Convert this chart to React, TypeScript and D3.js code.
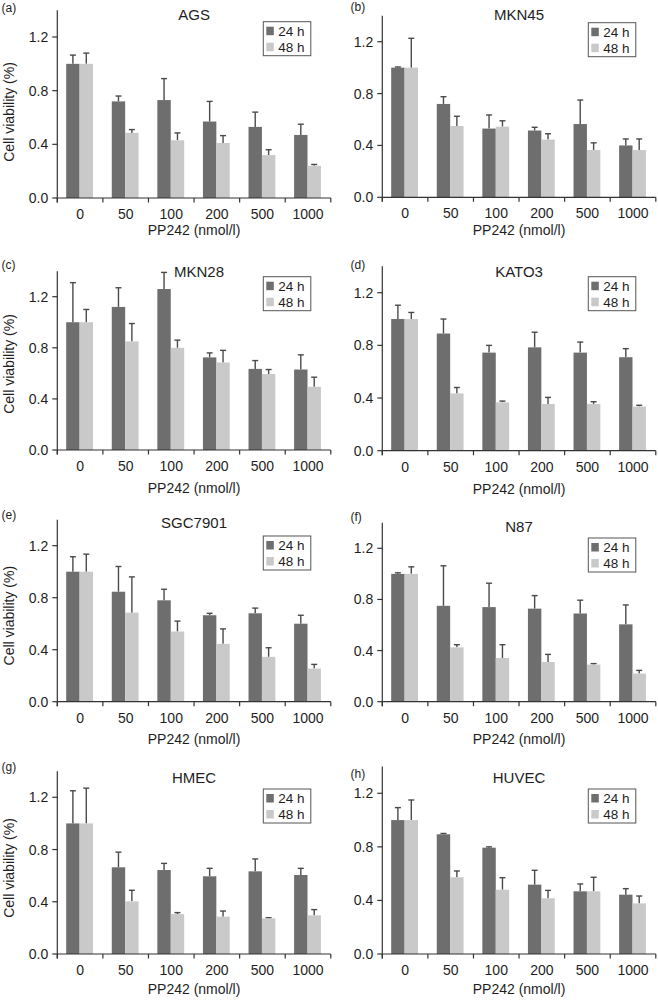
import React from "react";
import * as d3 from "d3";

// ---------- data ----------
const doses = ["0", "50", "100", "200", "500", "1000"];
const seriesNames = ["24 h", "48 h"];
const panelTags = ["(a)", "(b)", "(c)", "(d)", "(e)", "(f)", "(g)", "(h)"];
const cellLines = ["AGS", "MKN45", "MKN28", "KATO3", "SGC7901", "N87", "HMEC", "HUVEC"];
const yTicks = [0, 0.4, 0.8, 1.2];

const mean24 = [
  [1.0, 0.72, 0.73, 0.57, 0.53, 0.47],
  [1.0, 0.72, 0.53, 0.515, 0.565, 0.4],
  [1.0, 1.12, 1.26, 0.725, 0.635, 0.63],
  [1.0, 0.89, 0.745, 0.785, 0.745, 0.71],
  [1.0, 0.846, 0.78, 0.665, 0.68, 0.6],
  [1.0, 0.75, 0.74, 0.728, 0.69, 0.605],
  [1.0, 0.664, 0.643, 0.595, 0.633, 0.605],
  [1.0, 0.894, 0.794, 0.518, 0.468, 0.443],
];
const sd24 = [
  [0.065, 0.04, 0.16, 0.15, 0.11, 0.08],
  [0.005, 0.056, 0.105, 0.025, 0.185, 0.05],
  [0.31, 0.15, 0.13, 0.035, 0.065, 0.115],
  [0.105, 0.11, 0.055, 0.115, 0.08, 0.065],
  [0.115, 0.194, 0.085, 0.015, 0.04, 0.065],
  [0.008, 0.313, 0.187, 0.102, 0.104, 0.152],
  [0.25, 0.116, 0.051, 0.061, 0.095, 0.051],
  [0.093, 0.006, 0.006, 0.107, 0.055, 0.045],
];
const mean48 = [
  [1.0, 0.485, 0.43, 0.41, 0.32, 0.24],
  [1.0, 0.55, 0.545, 0.445, 0.365, 0.365],
  [1.0, 0.85, 0.8, 0.685, 0.595, 0.495],
  [1.0, 0.435, 0.367, 0.355, 0.355, 0.335],
  [1.0, 0.685, 0.54, 0.445, 0.345, 0.255],
  [1.0, 0.425, 0.342, 0.31, 0.29, 0.22],
  [1.0, 0.403, 0.306, 0.286, 0.273, 0.296],
  [1.0, 0.573, 0.48, 0.416, 0.468, 0.378],
];
const sd48 = [
  [0.08, 0.025, 0.055, 0.055, 0.04, 0.01],
  [0.226, 0.075, 0.045, 0.045, 0.055, 0.085],
  [0.1, 0.14, 0.06, 0.095, 0.035, 0.075],
  [0.05, 0.045, 0.01, 0.05, 0.017, 0.01],
  [0.135, 0.275, 0.08, 0.115, 0.07, 0.032],
  [0.055, 0.021, 0.104, 0.06, 0.008, 0.025],
  [0.27, 0.085, 0.011, 0.043, 0.005, 0.044],
  [0.15, 0.047, 0.09, 0.059, 0.105, 0.055],
];

// ---------- layout (pixel frame of each panel) ----------
const panelY0 = [198, 197.3, 450, 450.7, 701.7, 701.7, 954, 954];
const panelY12 = [37, 41.7, 296.7, 292.7, 545.7, 548.3, 797.3, 793.3];
const titleY = [15, 15, 271.7, 271.7, 522.7, 526.7, 778, 778];
const titleDx = [0, 0, 5, 0, 0, 0, 0, 0];
const legendTop = [21.7, 22.7, 276.7, 276.7, 536, 538, 789, 789];
const tagY = [7.3, 6.7, 265, 265, 515, 516.7, 766.7, 773.3];
const xTitleDy = [32, 32.7, 38, 38.6, 37.7, 37.7, 35, 35];

const COL_X0 = [57.3, 382.3];
const PLOT_W = 273.5;
const DARK = "#6e6e6e";
const LIGHT = "#c9c9c9";
const AXIS = "#333";
const ERR = "#4a4a4a";
const TXT = "#1e1e1e";
const FONT = "'Liberation Sans', Arial, Helvetica, sans-serif";

function Panel({ i }: { i: number }) {
  const col = i % 2;
  const x0 = COL_X0[col];
  const x1 = x0 + PLOT_W;
  const y0 = panelY0[i];
  const unit = (y0 - panelY12[i]) / 1.2;
  const y = d3.scaleLinear().domain([0, 1.4]).range([y0, y0 - 1.4 * unit]);
  const x = d3.scaleBand<string>().domain(doses).range([x0, x1]).paddingInner(0).paddingOuter(0);
  const barW = 13.4;
  const inner = d3.scaleBand<string>().domain(seriesNames).range([0, barW * 2]);
  const series = [
    { name: seriesNames[0], mean: mean24[i], sd: sd24[i], color: DARK },
    { name: seriesNames[1], mean: mean48[i], sd: sd48[i], color: LIGHT },
  ];
  const bw = x.bandwidth();
  const boundaries = d3.range(doses.length + 1).map((k) => x0 + k * bw);
  const midX = (x0 + x1) / 2;
  const lx = x1 - 20 - 47.5;
  const ly = legendTop[i];

  return (
    <g>
      {/* bars */}
      {series.map((s) =>
        doses.map((d, k) => {
          const bx = (x(d) as number) + bw / 2 - barW + (inner(s.name) as number) - 0.5;
          const top = y(s.mean[k]);
          const et = y(s.mean[k] + s.sd[k]);
          const cx = bx + barW / 2;
          return (
            <g key={s.name + d}>
              <line x1={cx} x2={cx} y1={top} y2={et} stroke={ERR} strokeWidth={1.4} />
              <line x1={cx - 3} x2={cx + 3} y1={et} y2={et} stroke={ERR} strokeWidth={1.4} />
              <rect x={bx} y={top} width={barW} height={y0 - top} fill={s.color} />
            </g>
          );
        })
      )}
      {/* y axis */}
      <line x1={x0} x2={x0} y1={y(1.4)} y2={y0 + 4.5} stroke={AXIS} strokeWidth={1.2} />
      {yTicks.map((t) => (
        <g key={t}>
          <line x1={x0 - 5} x2={x0} y1={y(t)} y2={y(t)} stroke={AXIS} strokeWidth={1.2} />
          <text x={x0 - 9} y={y(t)} dy="0.36em" textAnchor="end" fontSize={14} fill={TXT} fontFamily={FONT}>
            {t.toFixed(1)}
          </text>
        </g>
      ))}
      {/* x axis */}
      <line x1={x0} x2={x1} y1={y0} y2={y0} stroke={AXIS} strokeWidth={1.2} />
      {boundaries.map((bx, k) => (
        <line key={k} x1={bx} x2={bx} y1={y0} y2={y0 + 4.5} stroke={AXIS} strokeWidth={1.2} />
      ))}
      {doses.map((d) => (
        <text key={d} x={(x(d) as number) + bw / 2} y={y0 + 16} dy="0.36em" textAnchor="middle" fontSize={14} fill={TXT} fontFamily={FONT}>
          {d}
        </text>
      ))}
      <text x={midX} y={y0 + xTitleDy[i]} dy="0.36em" textAnchor="middle" fontSize={14} fill={TXT} fontFamily={FONT}>
        PP242 (nmol/l)
      </text>
      {col === 0 && (
        <text transform={`translate(9,${y0 - 86}) rotate(-90)`} dy="0.36em" textAnchor="middle" fontSize={14} fill={TXT} fontFamily={FONT}>
          Cell viability (%)
        </text>
      )}
      {/* title & tag */}
      <text x={midX + titleDx[i]} y={titleY[i]} dy="0.36em" textAnchor="middle" fontSize={15} fill={TXT} fontFamily={FONT}>
        {cellLines[i]}
      </text>
      <text x={col === 0 ? 1.5 : 350.5} y={tagY[i]} dy="0.36em" fontSize={12} fill={TXT} fontFamily={FONT}>
        {panelTags[i]}
      </text>
      {/* legend */}
      <rect x={lx} y={ly} width={47.5} height={34} fill="white" stroke="#555" strokeWidth={1} />
      {series.map((s, k) => (
        <g key={s.name}>
          <rect x={lx + 3} y={ly + 5 + k * 16} width={7.5} height={8.5} fill={s.color} />
          <text x={lx + 15} y={ly + 9.5 + k * 16} dy="0.36em" fontSize={13.5} fill={TXT} fontFamily={FONT}>
            {s.name}
          </text>
        </g>
      ))}
    </g>
  );
}

export default function App() {
  return (
    <svg
      width={658}
      height={1000}
      style={{ position: "absolute", left: 0, top: 0, background: "white" }}
    >
      <rect width={658} height={1000} fill="white" />
      {cellLines.map((_, i) => (
        <Panel key={i} i={i} />
      ))}
    </svg>
  );
}
